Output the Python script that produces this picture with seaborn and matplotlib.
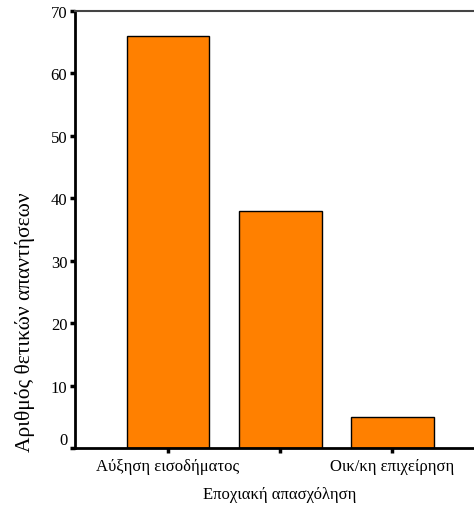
import matplotlib
matplotlib.use("Agg")
import matplotlib.pyplot as plt
import seaborn as sns

categories = ["Αύξηση εισοδήματος", "Εποχιακή απασχόληση", "Οικ/κη επιχείρηση"]
values = [66, 38, 5]
y_ticks = [0, 10, 20, 30, 40, 50, 60, 70]

sns.set_style("white")
plt.rcParams["font.family"] = ["Liberation Serif", "DejaVu Serif"]
plt.rcParams["text.color"] = "black"
plt.rcParams["axes.labelcolor"] = "black"

fig = plt.figure(figsize=(4.74, 5.06), dpi=100)
ax = fig.add_axes([75 / 474, 57 / 506, 1 - 75 / 474, 437 / 506])

sns.barplot(x=categories, y=values, color="#FF8000", saturation=1,
            edgecolor="black", linewidth=1, width=0.74, ax=ax)

ax.set_ylim(0, 70)
ax.set_xlim(-0.83, 2.73)
ax.set_yticks(y_ticks)
ax.set_xlabel("")
ax.set_ylabel("Αριθμός θετικών απαντήσεων", fontsize=15.5)
ax.yaxis.set_label_coords(-0.1, 0.29)

ax.tick_params(axis="both", direction="out", length=3.5, width=2.5,
               color="black", labelcolor="black", labelsize=12, pad=2,
               bottom=True, left=True)
ax.tick_params(axis="x", pad=4)
# stagger the middle category label like the original
ax.xaxis.get_major_ticks()[1].set_pad(24)
# the "0" label sits a little above the axis line
ax.yaxis.get_major_ticks()[0].label1.set_verticalalignment("bottom")

for side in ["left", "bottom"]:
    ax.spines[side].set_color("black")
    ax.spines[side].set_linewidth(2)
ax.spines["top"].set_color("#444444")
ax.spines["top"].set_linewidth(1.5)
ax.spines["right"].set_visible(False)

plt.savefig("out.png", dpi=100)
